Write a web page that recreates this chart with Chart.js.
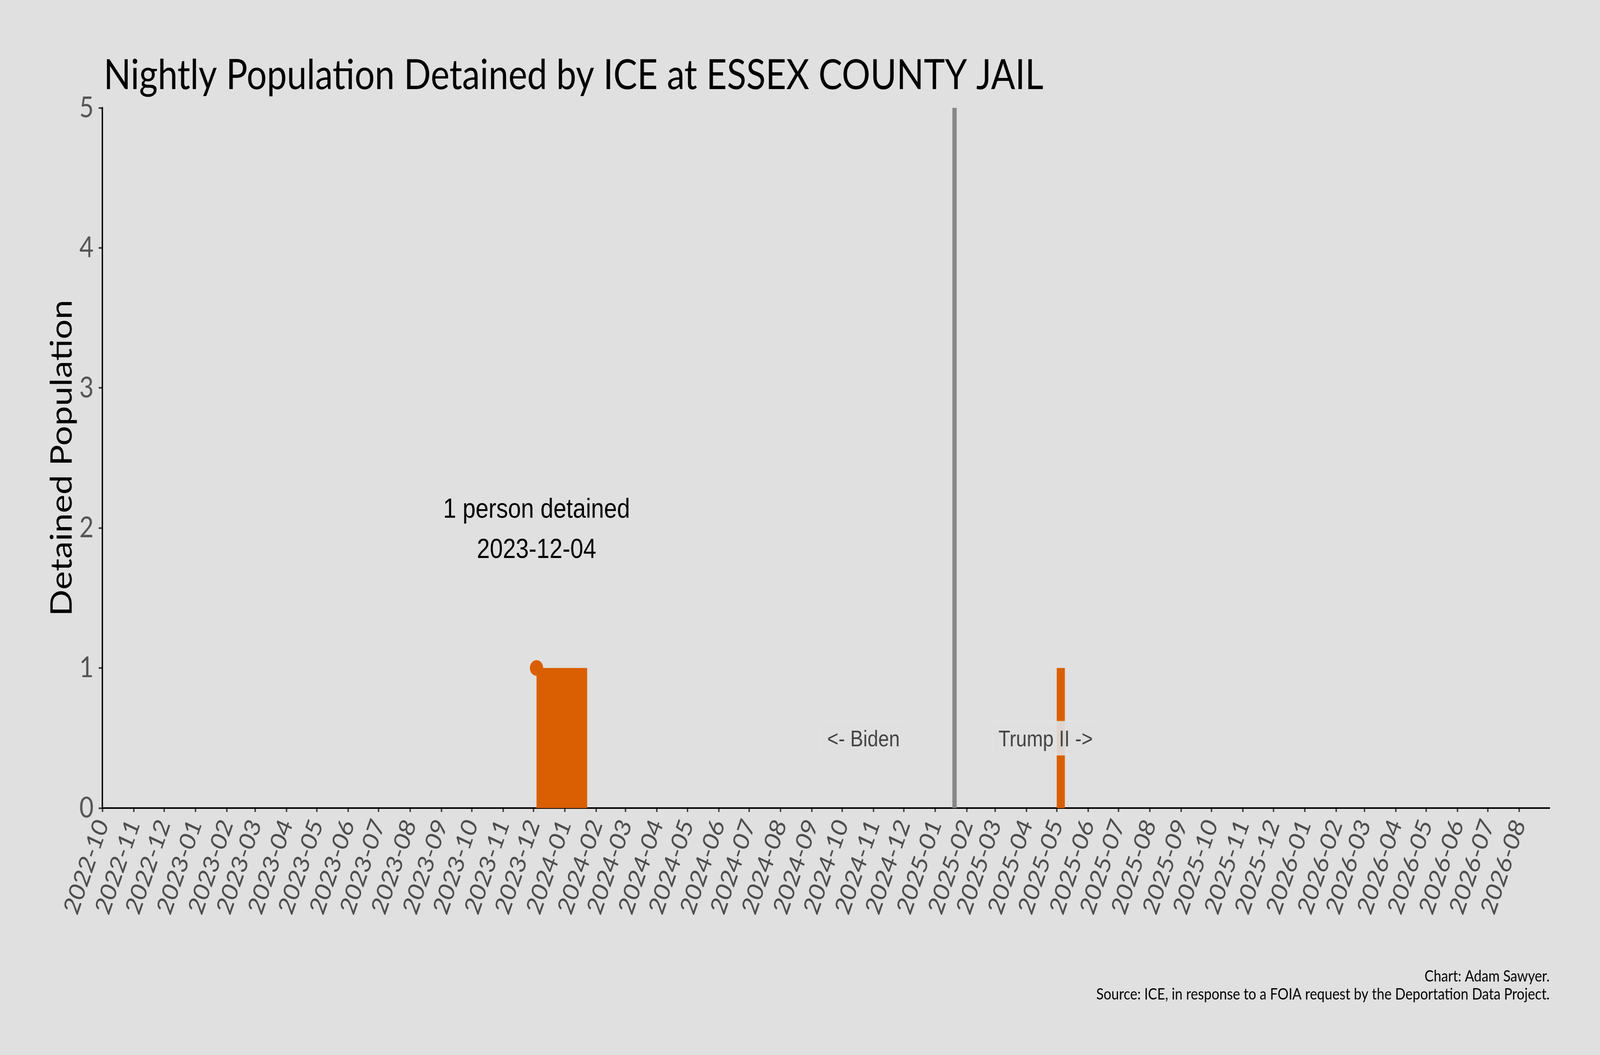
<!DOCTYPE html>
<html>
<head>
<meta charset="utf-8">
<title>Nightly Population Detained by ICE at ESSEX COUNTY JAIL</title>
<script src="https://cdn.jsdelivr.net/npm/chart.js@4.4.1/dist/chart.umd.min.js"></script>
<style>
  html, body { margin: 0; padding: 0; background: #e0e0e0; overflow: hidden; }
  canvas { display: block; }
</style>
</head>
<body>
<canvas id="chart" width="4800" height="2700"></canvas>
<script>
// detention spans: first night, day after the last night, people held
const spanStarts = ['2023-12-04', '2025-05-01'];
const spanEnds = ['2024-01-23', '2025-05-09'];
const spanCounts = [1, 1];

const rangeStart = '2022-10-01';
const rangeEnd = '2026-08-31';
const inauguration = '2025-01-20';
const highlightDate = '2023-12-04';
const highlightValue = 1;
const highlightLines = ['1 person detained', '2023-12-04'];
const eraLabels = ['<- Biden', 'Trump II ->'];
const eraOffsetDays = [-90, 90];
const yTickValues = [0, 1, 2, 3, 4, 5];

const titleText = 'Nightly Population Detained by ICE at ESSEX COUNTY JAIL';
const footerLines = [
    'Chart: Adam Sawyer.',
    'Source: ICE, in response to a FOIA request by the Deportation Data Project.'
];

const SANS = 'Lato, "Open Sans", sans-serif';
const ARIAL = '"Liberation Sans", Arial, sans-serif';
const ORANGE = '#d95f02';
const DAY = 86400000;
const W = 4800, H = 2700;

function day(s) {
    const p = s.split('-').map(Number);
    return Date.UTC(p[0], p[1] - 1, p[2]);
}

function fmtMonth(v) {
    const d = new Date(v);
    return d.getUTCFullYear() + '-' + String(d.getUTCMonth() + 1).padStart(2, '0');
}

/* month ticks between the range limits */
const monthTicks = [];
{
    const a = new Date(day(rangeStart));
    let y = a.getUTCFullYear(), m = a.getUTCMonth();
    while (Date.UTC(y, m, 1) <= day(rangeEnd)) {
        monthTicks.push(Date.UTC(y, m, 1));
        m++;
        if (m > 11) { m = 0; y++; }
    }
}

/* stepped outline of the nightly population */
const steps = [{ x: day(rangeStart), y: 0 }];
for (let i = 0; i < spanStarts.length; i++) {
    steps.push({ x: day(spanStarts[i]), y: spanCounts[i] });
    steps.push({ x: day(spanEnds[i]), y: 0 });
}
steps.push({ x: day(rangeEnd), y: 0 });

const textPlugin = {
    id: 'texts',
    afterDatasetsDraw(chart) {
        const ctx = chart.ctx;
        const xs = chart.scales.x, ys = chart.scales.y;
        ctx.save();

        // highlighted point label
        ctx.fillStyle = '#000';
        ctx.font = '70px ' + ARIAL;
        ctx.textAlign = 'center';
        ctx.textBaseline = 'alphabetic';
        const hx = xs.getPixelForValue(day(highlightDate));
        const hy = ys.getPixelForValue(2);
        ctx.fillText(highlightLines[0], hx, hy - 26);
        ctx.fillText(highlightLines[1], hx, hy + 77);

        // era labels either side of the inauguration
        ctx.font = '58px ' + ARIAL;
        const ey = ys.getPixelForValue(0.5);
        for (let i = 0; i < eraLabels.length; i++) {
            const ex = xs.getPixelForValue(day(inauguration) + eraOffsetDays[i] * DAY);
            const w = ctx.measureText(eraLabels[i]).width;
            ctx.fillStyle = 'rgba(224,224,224,0.92)';
            ctx.fillRect(ex - w / 2 - 19, ey - 43, w + 38, 87);
            ctx.strokeStyle = 'rgba(232,232,232,0.5)';
            ctx.lineWidth = 2;
            ctx.strokeRect(ex - w / 2 - 19, ey - 43, w + 38, 87);
            ctx.fillStyle = '#444';
            ctx.fillText(eraLabels[i], ex, ey + 21);
        }

        // title
        ctx.fillStyle = '#000';
        ctx.textAlign = 'left';
        ctx.font = '107px ' + SANS;
        ctx.fillText(titleText, 311, 228);

        // footer
        ctx.textAlign = 'right';
        ctx.font = '41px ' + SANS;
        ctx.fillText(footerLines[0], xs.right, 2512);
        ctx.fillText(footerLines[1], xs.right, 2558);
        ctx.restore();
    }
};

const canvas = document.getElementById('chart');
// the 4800x2700 bitmap fills the whole window
canvas.style.width = (window.innerWidth || W) + 'px';
canvas.style.height = (window.innerHeight || H) + 'px';

new Chart(canvas, {
    data: {
        datasets: [
            {
                type: 'scatter',
                data: [{ x: day(highlightDate), y: highlightValue }],
                pointRadius: 20,
                pointBackgroundColor: ORANGE,
                pointBorderWidth: 0,
                clip: false
            },
            {
                type: 'line',
                data: [{ x: day(inauguration), y: 0 }, { x: day(inauguration), y: 5 }],
                borderColor: '#888888',
                borderWidth: 13,
                pointRadius: 0,
                fill: false
            },
            {
                type: 'line',
                data: steps,
                stepped: 'before',
                fill: 'origin',
                backgroundColor: ORANGE,
                borderColor: 'rgba(0,0,0,0)',
                borderWidth: 1,
                pointRadius: 0
            }
        ]
    },
    options: {
        responsive: false,
        animation: false,
        devicePixelRatio: 1,
        layout: { padding: { left: 0, top: 276, right: 151, bottom: 0 } },
        plugins: {
            legend: { display: false },
            tooltip: { enabled: false }
        },
        scales: {
            x: {
                type: 'linear',
                min: day(rangeStart),
                max: day(rangeEnd),
                afterBuildTicks: (scale) => {
                    scale.ticks = monthTicks.map(v => ({ value: v }));
                },
                afterFit: (scale) => { scale.height = 632; },
                ticks: {
                    autoSkip: false,
                    minRotation: 68,
                    maxRotation: 68,
                    color: '#4d4d4d',
                    font: { family: SANS, size: 66 },
                    padding: 8,
                    callback: (v) => fmtMonth(v)
                },
                grid: {
                    drawOnChartArea: false,
                    drawTicks: true,
                    tickLength: 10,
                    tickWidth: 4,
                    tickColor: '#333'
                },
                border: { color: '#000', width: 4 }
            },
            y: {
                min: 0,
                max: 5,
                afterBuildTicks: (scale) => {
                    scale.ticks = yTickValues.map(v => ({ value: v }));
                },
                afterFit: (scale) => { scale.width = 307; },
                ticks: {
                    color: '#555',
                    font: { family: SANS, size: 74 },
                    padding: 15
                },
                grid: {
                    drawOnChartArea: false,
                    drawTicks: true,
                    tickLength: 11,
                    tickWidth: 4,
                    tickColor: '#333'
                },
                border: { color: '#000', width: 4 },
                title: {
                    display: true,
                    text: 'Detained Population',
                    color: '#000',
                    font: { family: SANS, size: 90 },
                    padding: { top: 132, bottom: 0 }
                }
            }
        }
    },
    plugins: [textPlugin]
});
</script>
</body>
</html>
